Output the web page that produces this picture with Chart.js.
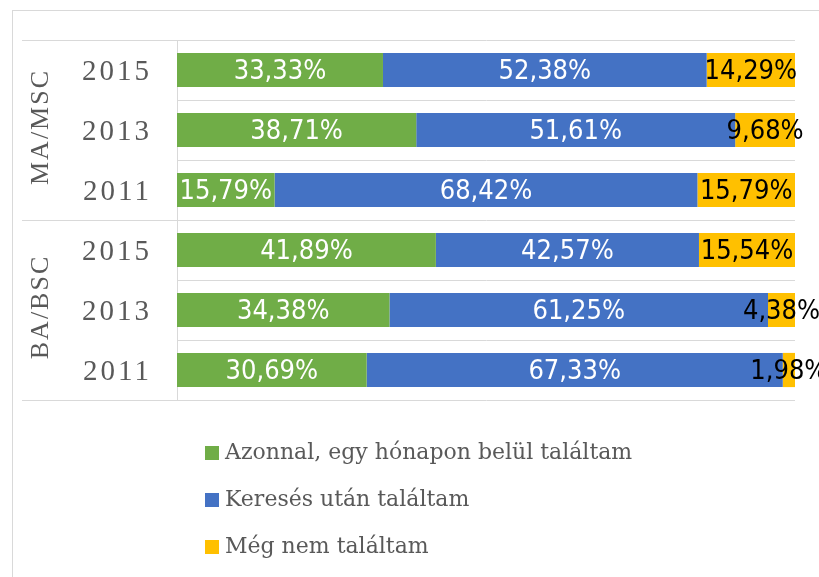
<!DOCTYPE html>
<html lang="hu">
<head>
    <meta charset="UTF-8">
    <title>Álláskeresés</title>
    <style>
        body {
            margin: 0;
            background-color: #fff;
            overflow: hidden;
        }

        .frame {
            position: absolute;
            left: 12px;
            top: 10px;
            width: 830px;
            height: 590px;
            border: 1px solid #d9d9d9;
        }

        .chart-box {
            position: relative;
            width: 806px;
            height: 566px;
        }
    </style>
</head>
<body>
    <div class="frame">
        <div class="chart-box">
            <canvas id="jobChart"></canvas>
        </div>
    </div>

    <script src="https://cdn.jsdelivr.net/npm/chart.js"></script>
    <script>
        // top to bottom
        const groups = ['MA/MSC', 'BA/BSC'];
        const years = ['2015', '2013', '2011', '2015', '2013', '2011'];
        const seriesNames = ['Azonnal, egy hónapon belül találtam', 'Keresés után találtam', 'Még nem találtam'];
        const immediate = [33.33, 38.71, 15.79, 41.89, 34.38, 30.69];
        const afterSearch = [52.38, 51.61, 68.42, 42.57, 61.25, 67.33];
        const notYet = [14.29, 9.68, 15.79, 15.54, 4.38, 1.98];

        const colors = ['#70ad47', '#4472c4', '#ffc000'];
        const labelColors = ['#ffffff', '#ffffff', '#000000'];
        const greyText = '#595959';
        const lineColor = '#d9d9d9';

        const fmt = v => v.toFixed(2).replace('.', ',') + '%';

        // group labels, year ticks, value labels and legend
        const decorations = {
            id: 'decorations',
            afterDatasetsDraw(chart) {
                const ctx = chart.ctx;
                const area = chart.chartArea;
                const yScale = chart.scales.y;

                ctx.save();

                // value labels in each segment
                ctx.font = '27px "Liberation Sans Narrow", "DejaVu Sans Condensed", sans-serif';
                ctx.textAlign = 'center';
                ctx.textBaseline = 'middle';
                chart.data.datasets.forEach((ds, di) => {
                    chart.getDatasetMeta(di).data.forEach((bar, i) => {
                        const p = bar.getProps(['x', 'y', 'base']);
                        ctx.fillStyle = labelColors[di];
                        ctx.fillText(fmt(ds.data[i]), (p.x + p.base) / 2, p.y + 2);
                    });
                });

                // group separators on the left side
                const perGroup = years.length / groups.length;
                ctx.strokeStyle = lineColor;
                ctx.lineWidth = 1;
                const edges = [area.top];
                for (let g = 1; g < groups.length; g++) {
                    const a = yScale.getPixelForValue(g * perGroup - 1);
                    const b = yScale.getPixelForValue(g * perGroup);
                    edges.push((a + b) / 2);
                }
                edges.push(area.bottom);
                edges.forEach(y => {
                    const yy = Math.round(y) + 0.5;
                    ctx.beginPath();
                    ctx.moveTo(9, yy);
                    ctx.lineTo(area.left, yy);
                    ctx.stroke();
                });

                // year ticks
                ctx.fillStyle = greyText;
                ctx.font = '29px "Liberation Serif", serif';
                ctx.letterSpacing = '3px';
                ctx.textAlign = 'right';
                years.forEach((yr, i) => {
                    ctx.fillText(yr, 139, yScale.getPixelForValue(i) + 2);
                });

                // rotated group labels
                ctx.font = '26px "Liberation Serif", serif';
                ctx.letterSpacing = '2px';
                ctx.textAlign = 'center';
                groups.forEach((name, g) => {
                    const mid = (edges[g] + edges[g + 1]) / 2;
                    ctx.save();
                    ctx.translate(28, mid);
                    ctx.rotate(-Math.PI / 2);
                    ctx.fillText(name, 3, 0);
                    ctx.restore();
                });
                ctx.letterSpacing = '0px';

                // legend, one item per line
                ctx.font = '22px "DejaVu Serif", serif';
                ctx.textAlign = 'left';
                chart.data.datasets.forEach((ds, di) => {
                    const cy = area.bottom + 53 + di * 47;
                    ctx.fillStyle = ds.backgroundColor;
                    ctx.fillRect(192, cy - 7, 14, 14);
                    ctx.fillStyle = greyText;
                    ctx.fillText(ds.label, 212, cy);
                });

                ctx.restore();
            }
        };

        new Chart(document.getElementById('jobChart'), {
            type: 'bar',
            data: {
                labels: years.map((y, i) => groups[Math.floor(i / 3)] + ' ' + y),
                datasets: [immediate, afterSearch, notYet].map((vals, i) => ({
                    label: seriesNames[i],
                    data: vals,
                    backgroundColor: colors[i],
                    borderWidth: 0,
                    barPercentage: 0.57,
                    categoryPercentage: 1
                }))
            },
            options: {
                indexAxis: 'y',
                responsive: true,
                maintainAspectRatio: false,
                animation: false,
                layout: {
                    padding: { top: 29, right: 24, bottom: 177, left: 0 }
                },
                scales: {
                    x: {
                        stacked: true,
                        min: 0,
                        max: 100,
                        display: false
                    },
                    y: {
                        stacked: true,
                        ticks: { display: false },
                        grid: {
                            offset: true,
                            color: lineColor,
                            drawTicks: false
                        },
                        border: { display: true, color: lineColor },
                        afterFit: scale => { scale.width = 164; }
                    }
                },
                plugins: {
                    legend: { display: false },
                    tooltip: { enabled: false }
                }
            },
            plugins: [decorations]
        });
    </script>
</body>
</html>
